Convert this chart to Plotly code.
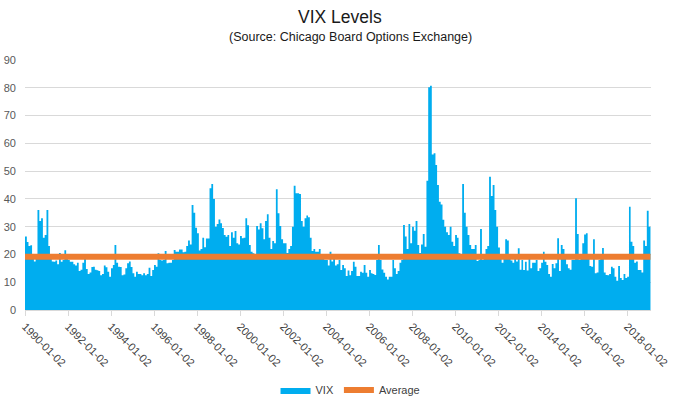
import plotly.graph_objects as go
import pandas as pd

# Monthly VIX levels (Jan 1990 - Jan 2019)
vix_1990s = [
    26.5, 24.5, 23, 23.3, 19, 17.5, 20, 36, 32, 33, 26, 27,          # 1990
    36, 23, 19, 17.5, 17.4, 17.8, 16.5, 20.5, 17.4, 18, 21.5, 18.5,  # 1991
    18, 17.4, 17.4, 16.5, 16, 17, 14, 14.5, 17, 20, 14.8, 13,        # 1992
    13.5, 15.5, 15.6, 14.5, 14.3, 14, 12.5, 13, 16, 15.4, 13.8, 12,  # 1993
    15, 16.2, 23.4, 17, 15.6, 15.5, 12.5, 12.8, 15, 16.8, 17.5, 15.5,  # 1994
    13.2, 12, 13.8, 13, 13, 12.5, 13.2, 12.5, 13, 15.2, 12.2, 14.4,  # 1995
    16.2, 15.6, 20.4, 18, 17.8, 18, 21.2, 16.8, 17, 17, 18, 21.6,    # 1996
    21, 21, 21.8, 21.8, 20.8, 21, 23, 25, 23.6, 37.8, 35, 29.6,      # 1997
    27.6, 21.4, 22, 26, 22.6, 25.7, 25.7, 43.8, 45.4, 40, 30, 31,    # 1998
    32.6, 31.2, 29.5, 27, 26.4, 27, 23, 28, 26, 28.4, 24, 23.6,      # 1999
]
vix_2000s = [
    26.6, 25.8, 26, 33, 30.5, 23.4, 21, 20.4, 20, 30.2, 29, 31.2,    # 2000
    29.4, 25.5, 32, 34.5, 26, 22, 24.8, 24, 43.5, 34.8, 30.2, 25.5,  # 2001
    24, 24, 20.5, 22, 23, 30, 44.7, 42, 42, 41.8, 32, 30,            # 2002
    33, 34, 33.4, 26, 21.2, 22, 21, 21, 22, 20, 19.5, 18,            # 2003
    18, 16, 21, 17.5, 18.5, 16, 16.5, 18, 14.4, 16.2, 15, 12.2,      # 2004
    14.2, 12.5, 14, 17.4, 15.6, 12.2, 12.2, 13.8, 13.4, 16.2, 13.4, 12,  # 2005
    14.4, 13.2, 13, 12.6, 18, 23.4, 18, 14.6, 13.4, 12, 11, 12,      # 2006
    12, 18, 15, 13, 14, 17, 18, 30.6, 26.5, 22, 31, 24,              # 2007
    30, 28.5, 32, 23.4, 20.5, 23.6, 27.4, 22.8, 46.5, 80.2, 80.7, 56,  # 2008
    56.4, 52.2, 45, 39, 38, 32.5, 30, 28, 27, 30, 24.6, 23,          # 2009
]
vix_2010s = [
    27, 26, 20.4, 20, 45.4, 35, 30, 27, 23.4, 22, 22, 23.4,          # 2010
    17.6, 18, 29.2, 18, 18.6, 22, 23, 48, 41, 45, 36, 30,            # 2011
    22.5, 20, 17, 19, 25.5, 25, 19, 17.8, 17, 18.5, 17.5, 22.2,      # 2012
    14.5, 18, 14.4, 17.4, 14.2, 19, 15, 17, 17, 18, 14, 15,          # 2013
    17, 21, 17.4, 16.2, 13, 12, 16.6, 15, 16.8, 25.8, 14, 23.4,      # 2014
    22, 20, 16.5, 15, 14.5, 18, 18, 40.2, 27.4, 18, 20, 24,          # 2015
    27.2, 27.6, 20, 15.8, 15.6, 25.5, 13.2, 13.5, 18, 19, 22.3, 13.5,  # 2016
    12.6, 12.5, 13, 15.6, 15, 12, 10.5, 15.8, 11.5, 10.8, 13, 11.5,  # 2017
    12, 37.2, 24.6, 23, 17, 17.5, 14.4, 14.4, 13.5, 25, 23, 35.7,    # 2018
    30,                                                              # 2019
]
vix = vix_1990s + vix_2000s + vix_2010s
AVERAGE = 19.2

tick_years = list(range(1990, 2019, 2))
tick_labels = [f"{y}-01-02" for y in tick_years]

months = list(pd.date_range("1990-01-01", periods=len(vix), freq="MS"))
x_steps = months + [months[-1] + pd.DateOffset(months=1)]
y_steps = vix + [vix[-1]]

BLUE = "#00ADEF"
ORANGE = "#ED7D31"
FONT = "Liberation Sans, Arial, sans-serif"

fig = go.Figure()
fig.add_trace(go.Scatter(
    x=x_steps, y=y_steps, mode="lines", name="VIX",
    line=dict(width=0, shape="hv", color=BLUE),
    fill="tozeroy", fillcolor=BLUE, hoverinfo="skip",
))
fig.add_trace(go.Scatter(
    x=[x_steps[0], x_steps[-1]], y=[AVERAGE, AVERAGE], mode="lines",
    name="Average", line=dict(width=6, color=ORANGE),
))

fig.update_layout(
    width=680, height=399,
    margin=dict(l=25, r=29, t=60, b=89, autoexpand=False),
    paper_bgcolor="white", plot_bgcolor="white",
    font=dict(family=FONT, size=11, color="#595959"),
    showlegend=True,
    legend=dict(orientation="h", x=0.52, xanchor="center", y=-0.32, yanchor="middle",
                font=dict(size=11, color="#404040"), itemwidth=30),
    annotations=[
        dict(text="VIX Levels", xref="paper", yref="paper", x=0.503, y=1.172,
             showarrow=False, font=dict(size=17.5, color="#1a1a1a", family=FONT),
             xanchor="center", yanchor="middle"),
        dict(text="(Source: Chicago Board Options Exchange)", xref="paper", yref="paper",
             x=0.52, y=1.09, showarrow=False,
             font=dict(size=12.5, color="#1a1a1a", family=FONT),
             xanchor="center", yanchor="middle"),
    ],
)
fig.update_xaxes(
    type="date", range=[x_steps[0], "2019-02-10"],
    tickvals=pd.to_datetime(tick_labels), ticktext=tick_labels,
    tickangle=45, showgrid=False, showline=True, linecolor="#D9D9D9", linewidth=1,
    ticks="outside", ticklen=5, tickcolor="#D9D9D9",
    tickfont=dict(size=11, color="#404040"), automargin=False,
)
fig.update_yaxes(
    range=[0, 90], dtick=10, showgrid=True, gridcolor="#D9D9D9", gridwidth=1,
    zeroline=False, showline=False, ticklabelstandoff=8,
    tickfont=dict(size=11, color="#595959"), automargin=False,
)

fig.write_html("out.html", config={"displayModeBar": False},
               post_script="document.body.style.margin='0px';")
